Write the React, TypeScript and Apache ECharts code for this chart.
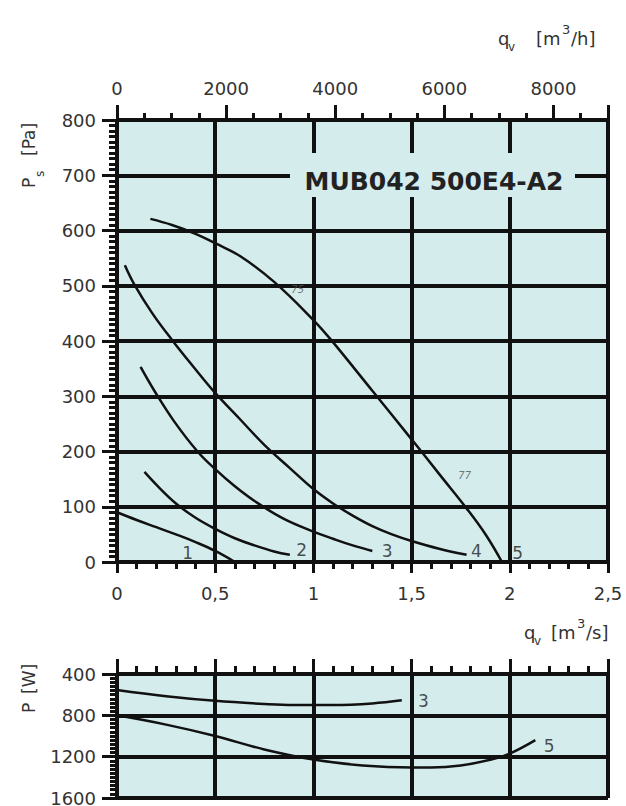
import React, { useEffect, useRef } from "react";
import * as echarts from "echarts";

// ---- Data ----
// Static pressure curves: [q_v (m³/s), p_s (Pa)]
const curve1 = [[0, 90], [0.1, 76], [0.2, 63], [0.3, 50], [0.4, 36], [0.5, 20], [0.6, 0]];
const curve2 = [[0.14, 163], [0.2, 140], [0.3, 106], [0.4, 80], [0.5, 60], [0.6, 43], [0.7, 30], [0.8, 19], [0.88, 13]];
const curve3 = [[0.12, 353], [0.19, 310], [0.29, 255], [0.41, 200], [0.5, 168], [0.6, 137], [0.71, 108], [0.85, 78], [1.0, 55], [1.1, 42], [1.2, 30], [1.3, 20]];
const curve4 = [[0.04, 537], [0.09, 501], [0.18, 450], [0.28, 402], [0.39, 353], [0.5, 306], [0.63, 257], [0.75, 212], [0.88, 170], [1.0, 132], [1.1, 106], [1.2, 84], [1.3, 65], [1.4, 50], [1.5, 38], [1.64, 24], [1.78, 13]];
const curve5 = [[0.17, 621], [0.28, 610], [0.4, 594], [0.5, 577], [0.63, 553], [0.8, 507], [1.0, 438], [1.09, 402], [1.3, 310], [1.5, 222], [1.65, 155], [1.78, 97], [1.88, 48], [1.96, 0]];

// Curve number labels: [text, q, p]
const curveLabels = [["1", 0.36, 16], ["2", 0.94, 21], ["3", 1.375, 20], ["4", 1.83, 20], ["5", 2.04, 16]];
// Efficiency marks on curve 5
const efficiencyLabels = [["75", 0.92, 494], ["77", 1.77, 156]];

// Power curves: [q_v (m³/s), P (W)]
const power3 = [[0, 555], [0.25, 615], [0.5, 660], [0.75, 690], [0.9, 700], [1.1, 700], [1.3, 685], [1.45, 655]];
const power5 = [[0, 800], [0.25, 890], [0.5, 1000], [0.75, 1130], [1.0, 1228], [1.25, 1285], [1.5, 1305], [1.6, 1305], [1.75, 1285], [1.9, 1230], [2.0, 1170], [2.13, 1040]];
const powerLabels = [["3", 1.56, 661], ["5", 2.2, 1095]];

// Axis ranges / tick steps
const qRange = [0, 2.5, 0.5];          // m³/s
const qhRange = [0, 9000, 2000, 500];  // m³/h (labels, minor)
const psRange = [0, 800, 100];         // Pa
const pRange = [400, 1600, 400];       // W

const BG = "#d4ecec";
const INK = "#111";
const FONT = "DejaVu Sans";

export default function App() {
  const ref = useRef<HTMLDivElement>(null);

  useEffect(() => {
    if (!ref.current) return;
    const chart = echarts.init(ref.current, undefined, { renderer: "svg" });

    const lbl = { fontFamily: FONT, fontSize: 18, color: "#333" };
    const tickStyle = { color: INK, width: 3 };
    const lineSeries = (data: number[][], xi: number, yi: number) => ({
      type: "line",
      xAxisIndex: xi,
      yAxisIndex: yi,
      data,
      smooth: 0.4,
      symbol: "none",
      showSymbol: false,
      silent: true,
      z: 3,
      lineStyle: { color: INK, width: 2.5 },
    });
    const labelSeries = (items: any[], xi: number, yi: number, extra: any) => ({
      type: "scatter",
      xAxisIndex: xi,
      yAxisIndex: yi,
      silent: true,
      symbolSize: 1,
      z: 4,
      itemStyle: { color: "rgba(0,0,0,0)" },
      data: items.map((d) => ({ name: d[0], value: [d[1], d[2]] })),
      label: { show: true, position: "inside", formatter: "{b}", fontFamily: FONT, ...extra },
    });
    const fmtComma = (v: number) => String(v).replace(".", ",");
    const fmtPlain = (v: number) => String(v);

    const option: any = {
      animation: false,
      backgroundColor: "#ffffff",
      grid: [
        { left: 117, top: 120, width: 491, height: 442, show: true, backgroundColor: BG, borderWidth: 0, outerBoundsMode: "none" },
        { left: 117, top: 674, width: 491, height: 124, show: true, backgroundColor: BG, borderWidth: 0, outerBoundsMode: "none" },
      ],
      xAxis: [
        {
          type: "value", gridIndex: 0, position: "bottom",
          min: qRange[0], max: qRange[1], interval: qRange[2],
          axisLine: { show: true, onZero: false, lineStyle: tickStyle },
          axisTick: { show: true, length: 11, lineStyle: tickStyle },
          minorTick: { show: true, splitNumber: 5, length: 7, lineStyle: tickStyle },
          axisLabel: { ...lbl, margin: 22, formatter: fmtComma },
          splitLine: { show: true, lineStyle: { color: INK, width: 4 } },
        },
        {
          type: "value", gridIndex: 0, position: "top",
          min: qhRange[0], max: qhRange[1], interval: qhRange[3],
          axisLine: { show: true, onZero: false, lineStyle: tickStyle },
          axisTick: { show: true, length: 7, lineStyle: tickStyle },
          axisLabel: { show: false },
          splitLine: { show: false },
        },
        {
          type: "value", gridIndex: 0, position: "top",
          min: qhRange[0], max: qhRange[1], interval: qhRange[2],
          axisLine: { show: false, onZero: false },
          axisTick: { show: true, length: 15, lineStyle: tickStyle },
          axisLabel: { ...lbl, margin: 23, formatter: (v: number) => (v > 8000 ? "" : String(v)) },
          splitLine: { show: false },
        },
        {
          type: "value", gridIndex: 1, position: "top",
          min: qRange[0], max: qRange[1], interval: qRange[2],
          axisLine: { show: true, onZero: false, lineStyle: tickStyle },
          axisTick: { show: true, length: 15, lineStyle: tickStyle },
          minorTick: { show: true, splitNumber: 5, length: 8, lineStyle: tickStyle },
          axisLabel: { show: false },
          splitLine: { show: true, lineStyle: { color: INK, width: 4 } },
        },
      ],
      yAxis: [
        {
          type: "value", gridIndex: 0, position: "left",
          min: psRange[0], max: psRange[1], interval: psRange[2],
          axisLine: { show: true, onZero: false, lineStyle: tickStyle },
          axisTick: { show: true, length: 15, lineStyle: tickStyle },
          minorTick: { show: true, splitNumber: 10, length: 8, lineStyle: tickStyle },
          axisLabel: { ...lbl, margin: 21, formatter: fmtPlain },
          splitLine: { show: true, lineStyle: { color: INK, width: 4 } },
        },
        {
          type: "value", gridIndex: 1, position: "left", inverse: true,
          min: pRange[0], max: pRange[1], interval: pRange[2],
          axisLine: { show: true, onZero: false, lineStyle: tickStyle },
          axisTick: { show: true, length: 15, lineStyle: tickStyle },
          minorTick: { show: true, splitNumber: 10, length: 7, lineStyle: tickStyle },
          axisLabel: { ...lbl, margin: 21, formatter: fmtPlain },
          splitLine: { show: true, lineStyle: { color: INK, width: 4 } },
        },
      ],
      series: [
        lineSeries(curve1, 0, 0),
        lineSeries(curve2, 0, 0),
        lineSeries(curve3, 0, 0),
        lineSeries(curve4, 0, 0),
        lineSeries(curve5, 0, 0),
        lineSeries(power3, 3, 1),
        lineSeries(power5, 3, 1),
        labelSeries(curveLabels, 0, 0, { fontSize: 17, color: "#222" }),
        labelSeries(efficiencyLabels, 0, 0, { fontSize: 10, fontStyle: "italic", color: "#555" }),
        labelSeries(powerLabels, 3, 1, { fontSize: 17, color: "#222" }),
      ],
      graphic: [
        // title box breaking the grid lines
        { type: "rect", z: 10, shape: { x: 290, y: 153, width: 285, height: 44 }, style: { fill: BG } },
        {
          type: "text", z: 11, x: 434, y: 181,
          style: { text: "MUB042 500E4-A2", font: `bold 25px "${FONT}"`, fill: "#222", align: "center", verticalAlign: "middle" },
        },
        // P_s [Pa]
        {
          type: "group", x: 29, y: 188, rotation: Math.PI / 2, z: 10,
          children: [
            { type: "text", x: 0, y: 0, style: { text: "P", font: `17px "${FONT}"`, fill: "#333", verticalAlign: "middle" } },
            { type: "text", x: 11, y: 11, style: { text: "s", font: `12px "${FONT}"`, fill: "#333", verticalAlign: "middle" } },
            { type: "text", x: 32, y: 0, style: { text: "[Pa]", font: `17px "${FONT}"`, fill: "#333", verticalAlign: "middle" } },
          ],
        },
        // P [W]
        {
          type: "group", x: 29, y: 713, rotation: Math.PI / 2, z: 10,
          children: [
            { type: "text", x: 0, y: 0, style: { text: "P", font: `17px "${FONT}"`, fill: "#333", verticalAlign: "middle" } },
            { type: "text", x: 19, y: 0, style: { text: "[W]", font: `17px "${FONT}"`, fill: "#333", verticalAlign: "middle" } },
          ],
        },
        // q_v [m³/h]
        { type: "text", z: 10, x: 498, y: 38, style: { text: "q", font: `18px "${FONT}"`, fill: "#333", verticalAlign: "middle" } },
        { type: "text", z: 10, x: 508, y: 47, style: { text: "v", font: `12px "${FONT}"`, fill: "#333", verticalAlign: "middle" } },
        { type: "text", z: 10, x: 536, y: 38, style: { text: "[m", font: `18px "${FONT}"`, fill: "#333", verticalAlign: "middle" } },
        { type: "text", z: 10, x: 562, y: 29, style: { text: "3", font: `13px "${FONT}"`, fill: "#333", verticalAlign: "middle" } },
        { type: "text", z: 10, x: 571, y: 38, style: { text: "/h]", font: `18px "${FONT}"`, fill: "#333", verticalAlign: "middle" } },
        // q_v [m³/s]
        { type: "text", z: 10, x: 524, y: 632, style: { text: "q", font: `18px "${FONT}"`, fill: "#333", verticalAlign: "middle" } },
        { type: "text", z: 10, x: 534, y: 641, style: { text: "v", font: `12px "${FONT}"`, fill: "#333", verticalAlign: "middle" } },
        { type: "text", z: 10, x: 551, y: 632, style: { text: "[m", font: `18px "${FONT}"`, fill: "#333", verticalAlign: "middle" } },
        { type: "text", z: 10, x: 577, y: 623, style: { text: "3", font: `13px "${FONT}"`, fill: "#333", verticalAlign: "middle" } },
        { type: "text", z: 10, x: 586, y: 632, style: { text: "/s]", font: `18px "${FONT}"`, fill: "#333", verticalAlign: "middle" } },
      ],
    };

    chart.setOption(option);
    return () => chart.dispose();
  }, []);

  return (
    <div
      ref={ref}
      style={{ position: "fixed", left: 0, top: 0, width: 626, height: 806, background: "#fff" }}
    />
  );
}
